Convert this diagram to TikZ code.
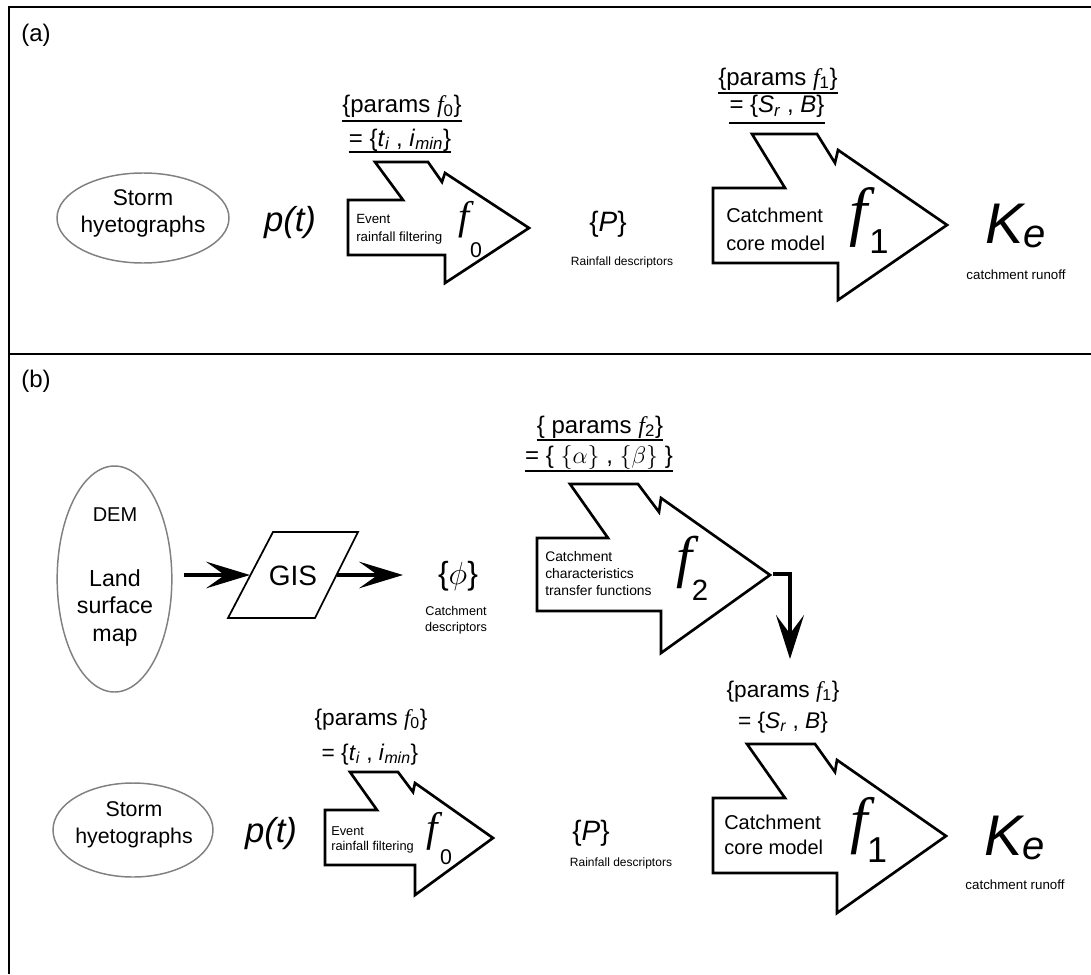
\RequirePackage{fix-cm}
\documentclass[tikz,border=0pt]{standalone}
\usepackage{fontspec}
\setmainfont{Liberation Sans}
\newfontfamily\tnr{Liberation Serif}
\usetikzlibrary{arrows.meta,shapes.geometric,calc}
\newcommand\fsz[2]{\fontsize{#1}{#2}\selectfont}
\newcommand\sub[1]{\textsubscript{\itshape #1}}
\newcommand\fit{{\tnr\itshape f}}
\begin{document}
\begin{tikzpicture}[x=0.75pt,y=-0.75pt,
  frame/.style={line width=2.2pt},
  farrow/.style={draw, line width=2pt, line join=miter},
  oval/.style={ellipse, draw=black!50, line width=1.1pt, inner sep=0pt},
  txt/.style={inner sep=0pt},
  ulin/.style={line width=1pt},
  bigarr/.style={line width=3pt, -{Stealth[length=33pt,width=20pt,inset=14pt]}},
  bendarr/.style={line width=3pt, line join=miter, -{Stealth[length=33pt,width=21pt,inset=14pt]}},
  gisbox/.style={draw, line width=1.3pt, line join=miter},
  bigf/.style={txt},
]
\useasboundingbox (0,0) rectangle (1091,974);
% frames
\draw[frame] (9,974) -- (9,7) -- (1091,7);
\draw[frame] (9,354) -- (1091,354);
\node[txt, anchor=west, font=\fsz{18pt}{21pt}] (la) at (21,35) {(a)};
\node[txt, anchor=west, font=\fsz{18pt}{21pt}] (lb) at (21,381) {(b)};

% ---------------- panel (a)
\node[oval, minimum width=129pt, minimum height=67.5pt] (storma) at (143,218) {};
\node[txt, align=center, font=\fsz{17pt}{20.3pt}] (stormat) at (143,213) {Storm\\hyetographs};
\node[txt, font=\fsz{26pt}{30pt}\itshape] (pta) at (290,223) {p(t)};

\draw[farrow] (348,200) -- (403,200) -- (375,162) -- (428,162) -- (442,182) -- (445,173)
  -- (529,228) -- (445,283) -- (445,255) -- (348,255) -- cycle;
\node[txt, anchor=west, align=left, font=\fsz{10pt}{13.5pt}] (f0at) at (356,229) {Event\\rainfall filtering};
\node[bigf, font=\fsz{30pt}{30pt}\tnr\itshape] (f0af) at (464,220) {f};
\node[txt, font=\fsz{16pt}{16pt}] (f0as) at (476,250) {0};

\node[txt, anchor=base, font=\fsz{18pt}{20pt}] (pf0a1) at (402,113) {\{params \fit\textsubscript{0}\}};
\node[txt, anchor=base, font=\fsz{18pt}{20pt}] (pf0a2) at (400,146) {= \{\textit{t}\sub{i} , \textit{i}\sub{min}\}};
\draw[ulin] ($(pf0a1.base west)+(0,8)$) -- ($(pf0a1.base east)+(0,8)$);
\draw[ulin] ($(pf0a2.base west)+(0,6)$) -- ($(pf0a2.base east)+(0,6)$);

\node[txt, font=\fsz{21pt}{24pt}] (Pa) at (608,224) {\{\textit{P}\}};
\node[txt, font=\fsz{9pt}{11pt}] (rda) at (622,262) {Rainfall descriptors};

\draw[farrow] (713,188) -- (785,188) -- (752,134) -- (817,134) -- (835,163) -- (838,150)
  -- (947,225) -- (838,300) -- (838,263) -- (713,263) -- cycle;
\node[txt, anchor=west, align=left, font=\fsz{15pt}{21pt}] (f1at) at (726,229) {Catchment\\core model};
\node[bigf, font=\fsz{49pt}{49pt}\tnr\itshape] (f1af) at (859,217) {f};
\node[txt, font=\fsz{26pt}{26pt}] (f1as) at (879,242) {1};

\node[txt, anchor=base, font=\fsz{18pt}{20pt}] (pf1a1) at (778,85) {\{params \fit\textsubscript{1}\}};
\node[txt, anchor=base, font=\fsz{18pt}{20pt}] (pf1a2) at (777,113) {= \{\textit{S}\sub{r} , \textit{B}\}};
\draw[ulin] ($(pf1a1.base west)+(0,8)$) -- ($(pf1a1.base east)+(0,8)$);
\draw[ulin] ($(pf1a2.base west)+(0,10)$) -- ($(pf1a2.base east)+(0,10)$);

\node[txt, anchor=base west, font=\fsz{43pt}{43pt}\itshape] (kea) at (985,243) {K\raisebox{-3.5pt}{\fsz{30pt}{30pt}e}};
\node[txt, font=\fsz{10pt}{12pt}] (cra) at (1016,275) {catchment runoff};

% ---------------- panel (b)
\node[oval, minimum width=86pt, minimum height=169.5pt] (dem) at (114.5,579) {};
\node[txt, align=center, font=\fsz{17.4pt}{20.6pt}] (demt) at (115,577) {{\fsz{15pt}{18pt}DEM}\\[28pt]Land\\surface\\map};

\draw[gisbox] (273,532) -- (358,532) -- (315,618) -- (228,618) -- cycle;
\node[txt, font=\fsz{21pt}{24pt}] (gis) at (293,576) {GIS};
\coordinate (demout) at (184,575);
\coordinate (gisin) at (250,575);
\coordinate (gisout) at (337,575);
\coordinate (phiin) at (403,575);
\draw[bigarr] (demout) -- (gisin);
\draw[bigarr] (gisout) -- (phiin);

\node[txt, font=\fsz{24pt}{28pt}] (phi) at (458,576) {\{$\phi$\}};
\node[txt, align=center, font=\fsz{9.5pt}{12pt}] (cd) at (456,620) {Catchment\\descriptors};

\draw[farrow] (537,538) -- (608,538) -- (570,484) -- (638,484) -- (659,512) -- (661,498)
  -- (770,575) -- (661,653) -- (661,611) -- (537,611) -- cycle;
\node[txt, anchor=west, align=left, font=\fsz{10.4pt}{12.75pt}] (f2t) at (545,574) {Catchment\\characteristics\\transfer functions};
\node[bigf, font=\fsz{43pt}{43pt}\tnr\itshape] (f2f) at (684,562) {f};
\node[txt, font=\fsz{22pt}{22pt}] (f2s) at (700,590) {2};

\node[txt, anchor=base, font=\fsz{18pt}{20pt}] (pf2b1) at (600,433) {\{ params \fit\textsubscript{2}\}};
\node[txt, anchor=base, font=\fsz{18pt}{20pt}] (pf2b2) at (599,463) {= \{ $\{\alpha\}$ , $\{\beta\}$ \}};
\draw[ulin] ($(pf2b1.base west)+(0,7)$) -- ($(pf2b1.base east)+(0,7)$);
\draw[ulin] ($(pf2b2.base west)+(0,8)$) -- ($(pf2b2.base east)+(0,8)$);

\coordinate (f2tip) at (773,574);
\coordinate (f2down) at (790,659);
\draw[bendarr] (f2tip) -| (f2down);

\node[txt, anchor=base, font=\fsz{17pt}{20pt}] (pf1b1) at (783,697) {\{params \fit\textsubscript{1}\}};
\node[txt, anchor=base, font=\fsz{17pt}{20pt}] (pf1b2) at (783,728) {= \{\textit{S}\sub{r} , \textit{B}\}};

\node[oval, minimum width=120pt, minimum height=70.5pt] (stormb) at (133,830) {};
\node[txt, align=center, font=\fsz{16pt}{20pt}] (stormbt) at (134,825) {Storm\\hyetographs};
\node[txt, font=\fsz{26pt}{30pt}\itshape] (ptb) at (271,834) {p(t)};

\draw[farrow] (325,810) -- (377,810) -- (350,772) -- (398,772) -- (413,792) -- (415,783)
  -- (493,838) -- (415,895) -- (415,865) -- (325,865) -- cycle;
\node[txt, anchor=west, align=left, font=\fsz{9.6pt}{11.5pt}] (f0bt) at (331,840) {Event\\rainfall filtering};
\node[bigf, font=\fsz{31pt}{31pt}\tnr\itshape] (f0bf) at (432,831) {f};
\node[txt, font=\fsz{16pt}{16pt}] (f0bs) at (446,857) {0};

\node[txt, anchor=base, font=\fsz{17pt}{20pt}] (pf0b1) at (371,725) {\{params \fit\textsubscript{0}\}};
\node[txt, anchor=base, font=\fsz{17pt}{20pt}] (pf0b2) at (370,760) {= \{\textit{t}\sub{i} , \textit{i}\sub{min}\}};

\node[txt, font=\fsz{21pt}{24pt}] (Pb) at (591,833) {\{\textit{P}\}};
\node[txt, font=\fsz{9pt}{11pt}] (rdb) at (621,863) {Rainfall descriptors};

\draw[farrow] (713,798) -- (785,798) -- (747,744) -- (815,744) -- (835,772) -- (837,760)
  -- (946,836) -- (837,913) -- (837,873) -- (713,873) -- cycle;
\node[txt, anchor=west, align=left, font=\fsz{15pt}{19pt}] (f1bt) at (724,835) {Catchment\\core model};
\node[bigf, font=\fsz{47pt}{47pt}\tnr\itshape] (f1bf) at (859,826) {f};
\node[txt, font=\fsz{27pt}{27pt}] (f1bs) at (877,850) {1};

\node[txt, anchor=base west, font=\fsz{43pt}{43pt}\itshape] (keb) at (984,855) {K\raisebox{-3.5pt}{\fsz{30pt}{30pt}e}};
\node[txt, font=\fsz{10pt}{12pt}] (crb) at (1015,885) {catchment runoff};
\end{tikzpicture}
\end{document}
